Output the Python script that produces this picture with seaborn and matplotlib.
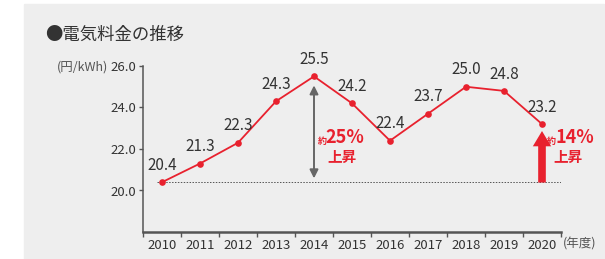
import numpy as np
import pandas as pd
import matplotlib.pyplot as plt
from matplotlib.patches import Rectangle, FancyArrowPatch
import seaborn as sns

# --- data ---
years = ["2010", "2011", "2012", "2013", "2014", "2015",
         "2016", "2017", "2018", "2019", "2020"]
price = [20.4, 21.3, 22.3, 24.3, 25.5, 24.2, 22.4, 23.7, 25.0, 24.8, 23.2]
y_ticks = [20.0, 22.0, 24.0, 26.0]
title = "●電気料金の推移"
unit_label = "(円/kWh)"
year_unit = "(年度)"
rise_peak = "25%"
rise_now = "14%"

RED = "#e8212e"
TXT = "#333333"
BG = "#eeeeee"

sns.set_style("white")
plt.rcParams["font.family"] = ["Noto Sans CJK JP", "DejaVu Sans"]

df = pd.DataFrame({"year": years, "price": price})
df["x"] = np.arange(len(years))

fig = plt.figure(figsize=(6.05, 2.59), dpi=100, facecolor="white")
fig.patches.append(Rectangle((24 / 605, 0), 580 / 605, 255 / 259,
                             transform=fig.transFigure, color=BG, zorder=-5))
ax = fig.add_axes([143 / 605, 27 / 259, 418 / 605, 166 / 259])
ax.set_facecolor("none")
ax.set_zorder(2)

# baseline from the 2010 level
ax.plot([-0.13, 10.5], [price[0], price[0]], color="#555555", lw=0.7,
        ls=(0, (1.5, 1.5)), zorder=1)

sns.lineplot(data=df, x="x", y="price", color=RED, lw=1.3, marker="o",
             markersize=4.8, markeredgewidth=0, ax=ax, zorder=3)

for xi, v in zip(df["x"], price):
    ax.annotate(f"{v:.1f}", (xi, v), xytext=(0, 6), textcoords="offset points",
                ha="center", va="bottom", fontsize=11, color=TXT)

# gray double arrow at the peak
i_peak = years.index("2014")
ax.add_patch(FancyArrowPatch((i_peak, price[0] + 0.05), (i_peak, price[i_peak] - 0.3),
                             arrowstyle="<|-|>,head_length=5,head_width=2.5",
                             color="#666666", lw=1.4, zorder=2))
ax.text(i_peak + 0.1, 22.37, "約", color=RED, fontsize=6.5, fontweight="bold",
        ha="left", va="center")
ax.text(i_peak + 0.3, 22.57, rise_peak, color=RED, fontsize=13, fontweight="bold",
        ha="left", va="center")
ax.text(i_peak + 0.73, 21.6, "上昇", color=RED, fontsize=10.5, fontweight="bold",
        ha="center", va="center")

# red arrow for 2020
i_now = len(years) - 1
ax.add_patch(FancyArrowPatch((i_now, price[0] - 0.15), (i_now, price[i_now] - 0.2),
                             arrowstyle="simple,head_length=1.0,head_width=1.2,tail_width=0.5",
                             mutation_scale=11, color=RED, lw=0, zorder=2))
ax.text(i_now + 0.12, 22.37, "約", color=RED, fontsize=6.5, fontweight="bold",
        ha="left", va="center")
ax.text(i_now + 0.35, 22.57, rise_now, color=RED, fontsize=13, fontweight="bold",
        ha="left", va="center", clip_on=False)
ax.text(i_now + 0.68, 21.6, "上昇", color=RED, fontsize=10.5, fontweight="bold",
        ha="center", va="center", clip_on=False)

# axes styling
ax.set_xlim(-0.5, len(years) - 0.5)
ax.set_ylim(18, 26)
ax.set_xticks(df["x"])
ax.set_xticklabels(years)
ax.set_xticks(np.arange(-0.5, len(years)), minor=True)
ax.set_yticks(y_ticks)
ax.set_yticklabels([f"{t:.1f}" for t in y_ticks])
ax.tick_params(axis="x", which="major", length=0, pad=5, labelsize=9.5, labelcolor=TXT)
ax.tick_params(axis="x", which="minor", length=3.5, width=1, color="#555555",
               direction="out", bottom=True)
ax.tick_params(axis="y", length=3, width=1, color="#555555", direction="out",
               pad=2, labelsize=9.5, labelcolor=TXT, left=True)
ax.set_xlabel("")
ax.set_ylabel("")
sns.despine(ax=ax)
ax.spines["left"].set_color("#555555")
ax.spines["left"].set_linewidth(1.1)
ax.spines["bottom"].set_color("#555555")
ax.spines["bottom"].set_linewidth(1.8)

fig.text(45 / 605, 1 - 35 / 259, title, fontsize=12.5, color=TXT,
         ha="left", va="center")
fig.text(108 / 605, 1 - 67 / 259, unit_label, fontsize=9, color="#555555",
         ha="right", va="center")
fig.text(563 / 605, 1 - 244 / 259, year_unit, fontsize=9, color="#555555",
         ha="left", va="center")

fig.savefig("out.png", dpi=100, facecolor="white")
